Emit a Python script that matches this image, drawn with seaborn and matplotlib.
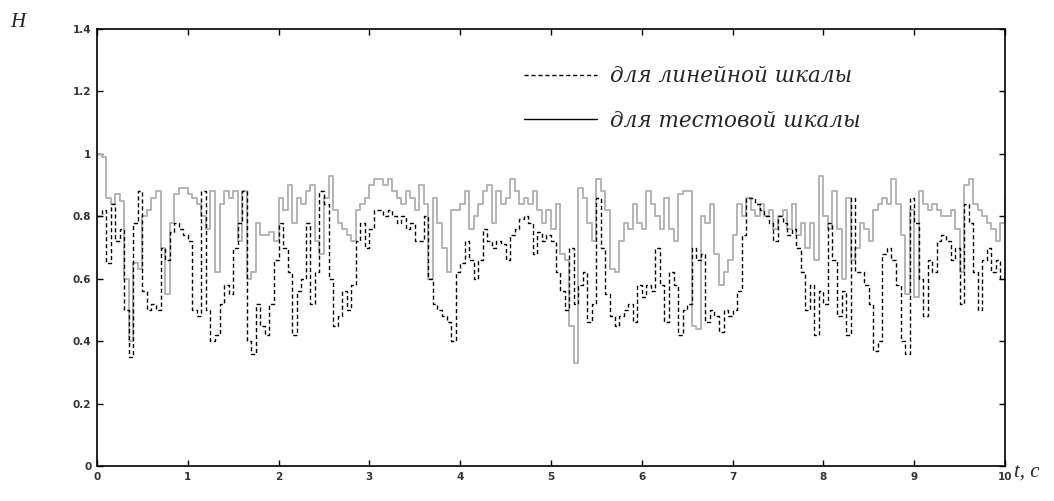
import numpy as np
import pandas as pd
import matplotlib
matplotlib.use("Agg")
import matplotlib.pyplot as plt
from matplotlib.lines import Line2D
import seaborn as sns

# время, с (шаг 0.05)
t = np.round(np.arange(0, 10.001, 0.05), 2)

# для тестовой шкалы (серая линия)
h_test = [
    1.00, 0.99, 0.86, 0.84, 0.87, 0.85, 0.60, 0.40, 0.65, 0.63,
    0.80, 0.82, 0.86, 0.88, 0.70, 0.55, 0.78, 0.87, 0.89, 0.89,
    0.87, 0.86, 0.84, 0.80, 0.76, 0.88, 0.62, 0.84, 0.88, 0.86,
    0.88, 0.72, 0.88, 0.60, 0.62, 0.78, 0.74, 0.74, 0.75, 0.72,
    0.86, 0.82, 0.90, 0.78, 0.86, 0.84, 0.88, 0.90, 0.72, 0.68,
    0.86, 0.93, 0.82, 0.78, 0.76, 0.74, 0.72, 0.82, 0.84, 0.86,
    0.90, 0.92, 0.92, 0.90, 0.92, 0.88, 0.86, 0.84, 0.88, 0.86,
    0.82, 0.90, 0.84, 0.60, 0.86, 0.78, 0.70, 0.62, 0.82, 0.82,
    0.84, 0.88, 0.76, 0.80, 0.84, 0.88, 0.90, 0.78, 0.88, 0.84,
    0.86, 0.92, 0.88, 0.84, 0.86, 0.84, 0.88, 0.82, 0.78, 0.82,
    0.76, 0.84, 0.68, 0.66, 0.45, 0.33, 0.89, 0.86, 0.78, 0.72,
    0.92, 0.88, 0.82, 0.63, 0.62, 0.72, 0.78, 0.76, 0.84, 0.78,
    0.76, 0.88, 0.84, 0.80, 0.76, 0.86, 0.76, 0.72, 0.87, 0.88,
    0.88, 0.45, 0.44, 0.80, 0.78, 0.84, 0.68, 0.58, 0.62, 0.66,
    0.74, 0.84, 0.80, 0.86, 0.82, 0.80, 0.84, 0.80, 0.82, 0.76,
    0.80, 0.82, 0.76, 0.84, 0.74, 0.78, 0.70, 0.78, 0.66, 0.93,
    0.80, 0.76, 0.88, 0.76, 0.60, 0.86, 0.66, 0.70, 0.78, 0.76,
    0.72, 0.82, 0.84, 0.86, 0.84, 0.92, 0.84, 0.74, 0.55, 0.82,
    0.54, 0.88, 0.84, 0.82, 0.84, 0.82, 0.80, 0.80, 0.82, 0.76,
    0.62, 0.90, 0.92, 0.84, 0.82, 0.80, 0.78, 0.76, 0.72, 0.78,
    0.86,
]

# для линейной шкалы (пунктир)
h_lin = [
    0.80, 0.82, 0.65, 0.84, 0.72, 0.76, 0.50, 0.35, 0.78, 0.88,
    0.56, 0.50, 0.52, 0.50, 0.70, 0.66, 0.75, 0.78, 0.76, 0.74,
    0.72, 0.50, 0.48, 0.88, 0.50, 0.40, 0.42, 0.52, 0.58, 0.55,
    0.70, 0.78, 0.88, 0.40, 0.36, 0.52, 0.45, 0.42, 0.52, 0.66,
    0.78, 0.70, 0.62, 0.42, 0.56, 0.60, 0.78, 0.52, 0.62, 0.88,
    0.84, 0.60, 0.45, 0.48, 0.56, 0.50, 0.58, 0.72, 0.78, 0.70,
    0.76, 0.82, 0.82, 0.80, 0.82, 0.80, 0.78, 0.80, 0.76, 0.78,
    0.72, 0.72, 0.80, 0.60, 0.52, 0.50, 0.48, 0.46, 0.40, 0.62,
    0.65, 0.72, 0.66, 0.60, 0.66, 0.76, 0.72, 0.70, 0.72, 0.71,
    0.66, 0.74, 0.76, 0.79, 0.80, 0.78, 0.68, 0.75, 0.72, 0.74,
    0.72, 0.62, 0.56, 0.50, 0.70, 0.52, 0.58, 0.62, 0.46, 0.52,
    0.86, 0.70, 0.55, 0.48, 0.45, 0.48, 0.50, 0.52, 0.46, 0.58,
    0.54, 0.58, 0.56, 0.70, 0.58, 0.46, 0.62, 0.58, 0.42, 0.50,
    0.52, 0.70, 0.66, 0.68, 0.46, 0.50, 0.48, 0.43, 0.50, 0.48,
    0.50, 0.56, 0.74, 0.86, 0.86, 0.84, 0.82, 0.80, 0.78, 0.72,
    0.80, 0.78, 0.74, 0.76, 0.70, 0.62, 0.50, 0.58, 0.42, 0.56,
    0.52, 0.78, 0.66, 0.48, 0.56, 0.42, 0.86, 0.62, 0.62, 0.58,
    0.52, 0.37, 0.40, 0.68, 0.70, 0.66, 0.58, 0.40, 0.36, 0.86,
    0.78, 0.60, 0.48, 0.66, 0.62, 0.72, 0.74, 0.72, 0.66, 0.70,
    0.52, 0.84, 0.78, 0.62, 0.50, 0.66, 0.70, 0.62, 0.66, 0.60,
    0.62,
]

x_ticks = [0, 1, 2, 3, 4, 5, 6, 7, 8, 9, 10]
y_ticks = [0, 0.2, 0.4, 0.6, 0.8, 1.0, 1.2, 1.4]
y_tick_labels = ["0", "0.2", "0.4", "0.6", "0.8", "1", "1.2", "1.4"]
legend_labels = ["для линейной шкалы", "для тестовой шкалы"]

df = pd.DataFrame({"t": t, "test": h_test, "lin": h_lin})

sns.set_style("ticks")
plt.rcParams["font.family"] = ["DejaVu Sans"]

fig = plt.figure(figsize=(10.54, 5.01), dpi=100)
ax = fig.add_axes([0.092, 0.0699, 0.8615, 0.8721])

sns.lineplot(data=df, x="t", y="test", ax=ax, color="#b4b4b4", linewidth=1.4,
             drawstyle="steps-post")
sns.lineplot(data=df, x="t", y="lin", ax=ax, color="black", linewidth=1.0,
             linestyle=(0, (3, 2)), drawstyle="steps-post")

ax.set_xlim(0, 10)
ax.set_ylim(0, 1.4)
ax.set_xticks(x_ticks)
ax.set_xticklabels([str(v) for v in x_ticks])
ax.set_yticks(y_ticks)
ax.set_yticklabels(y_tick_labels)
ax.tick_params(direction="in", length=4, width=1, labelsize=7.5, top=True, right=True,
               colors="black", pad=4)
for lab in ax.get_xticklabels() + ax.get_yticklabels():
    lab.set_fontweight("bold")
    lab.set_color("#333333")
for s in ax.spines.values():
    s.set_linewidth(1.2)
    s.set_color("black")
ax.set_xlabel("")
ax.set_ylabel("")

serif = ["DejaVu Serif"]
fig.text(0.010, 0.955, "H", fontsize=15, style="italic", family=["Liberation Serif"],
         va="center")
fig.text(0.962, 0.058, "t, c", fontsize=15, style="italic", family=["Liberation Serif"],
         va="center")

handles = [
    Line2D([], [], color="black", linewidth=1.0, linestyle=(0, (3, 2))),
    Line2D([], [], color="black", linewidth=1.0),
]
ax.legend(handles, legend_labels, loc="upper left", bbox_to_anchor=(0.449, 0.962),
          frameon=False, handlelength=3.4, handletextpad=0.6, labelspacing=1.05,
          prop={"family": serif, "style": "italic", "size": 15.5})

fig.savefig("out.png", dpi=100)
